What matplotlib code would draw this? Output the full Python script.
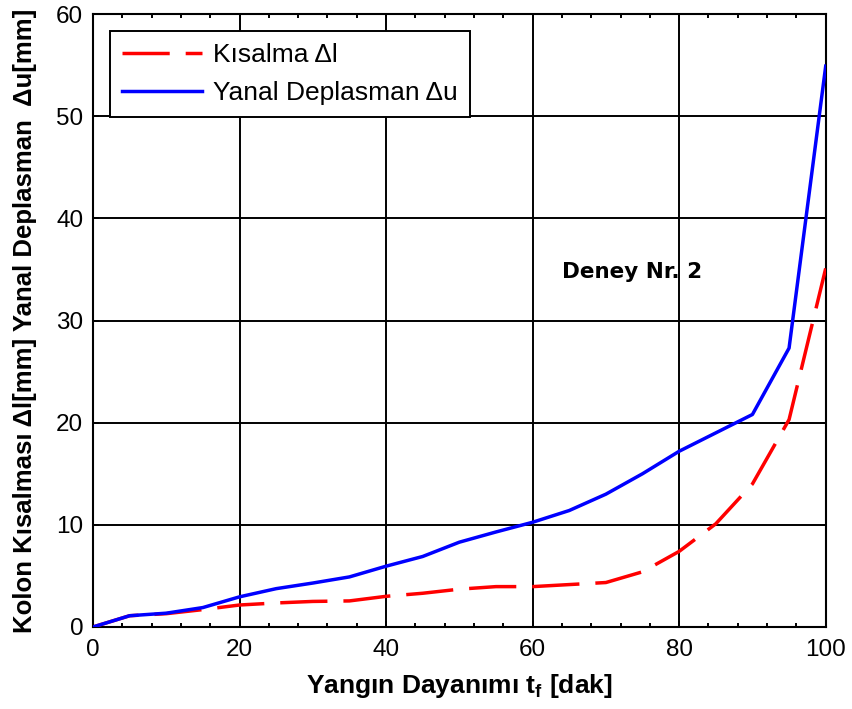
import matplotlib
matplotlib.use("Agg")
import matplotlib.pyplot as plt
from matplotlib.ticker import MultipleLocator

plt.rcParams['font.family'] = ['Liberation Sans', 'DejaVu Sans']
plt.rcParams['mathtext.fontset'] = 'custom'
plt.rcParams['mathtext.rm'] = 'Liberation Sans'
plt.rcParams['mathtext.bf'] = 'Liberation Sans:bold'
plt.rcParams['lines.scale_dashes'] = False

# Time [min]
t_blue = [0, 5, 10, 15, 20, 25, 30, 35, 40, 45, 50, 55, 60, 65, 70, 75, 80, 85, 90, 95, 100]
# Lateral displacement Δu [mm]
du = [0, 1.1, 1.35, 1.9, 2.95, 3.75, 4.3, 4.9, 5.95, 6.9, 8.3, 9.3, 10.25, 11.4, 13.0, 15.0, 17.2, 19.0, 20.8, 27.3, 54.9]

t_red = [0, 5, 10, 15, 20, 25, 30, 35, 40, 45, 50, 55, 60, 65, 70, 75, 80, 85, 90, 95, 100]
# Column shortening Δl [mm]
dl = [0, 1.1, 1.3, 1.7, 2.15, 2.35, 2.5, 2.55, 3.0, 3.3, 3.7, 3.95, 3.95, 4.15, 4.35, 5.4, 7.4, 10.1, 14.0, 20.3, 35.1]

fig = plt.figure(figsize=(8.53, 7.09), dpi=100)
ax = fig.add_axes([0.109, 0.1157, 0.859, 0.8645])

ax.plot(t_red, dl, color='#ff0000', lw=2.5, dashes=(34, 11.5), label='Kısalma \u0394l', zorder=3)
ax.plot(t_blue, du, color='#0000ff', lw=2.5, label='Yanal Deplasman \u0394u', zorder=3)

ax.set_xlim(0, 100)
ax.set_ylim(0, 60)
ax.xaxis.set_major_locator(MultipleLocator(20))
ax.xaxis.set_minor_locator(MultipleLocator(4))
ax.yaxis.set_major_locator(MultipleLocator(10))
ax.grid(True, which='major', color='black', lw=1.4, ls='-')
ax.set_axisbelow(True)
ax.tick_params(which='both', direction='in', top=True, right=True, labelsize=17.5, width=1.4)
ax.tick_params(axis='y', pad=7)
ax.tick_params(axis='x', pad=9)
ax.tick_params(which='major', length=4)
ax.tick_params(which='minor', length=3)
for s in ax.spines.values():
    s.set_linewidth(1.5)

ax.set_xlabel('Yangın Dayanımı t$_\\mathbf{f}$ [dak]', fontsize=19, fontweight='bold')
ax.xaxis.set_label_coords(0.5, -0.074, transform=ax.transAxes)
ax.xaxis.label.set_va('top')
ax.set_ylabel('Kolon Kısalması \u0394l[mm] Yanal Deplasman  \u0394u[mm]', fontsize=18.5, fontweight='bold')
ax.yaxis.set_label_coords(-0.076, 0.5)

ax.text(64.0, 34.7, 'Deney Nr. 2', fontsize=15.5, fontweight='bold', family='DejaVu Sans',
        va='center', ha='left')

leg = ax.legend(loc='upper left', bbox_to_anchor=(0.0232, 0.9723), borderaxespad=0,
                fontsize=19, frameon=True, fancybox=False, edgecolor='black', framealpha=1,
                handlelength=3.05, borderpad=0.45, labelspacing=0.55, handletextpad=0.4)
leg.get_frame().set_linewidth(1.4)

fig.savefig('out.png', dpi=100)
